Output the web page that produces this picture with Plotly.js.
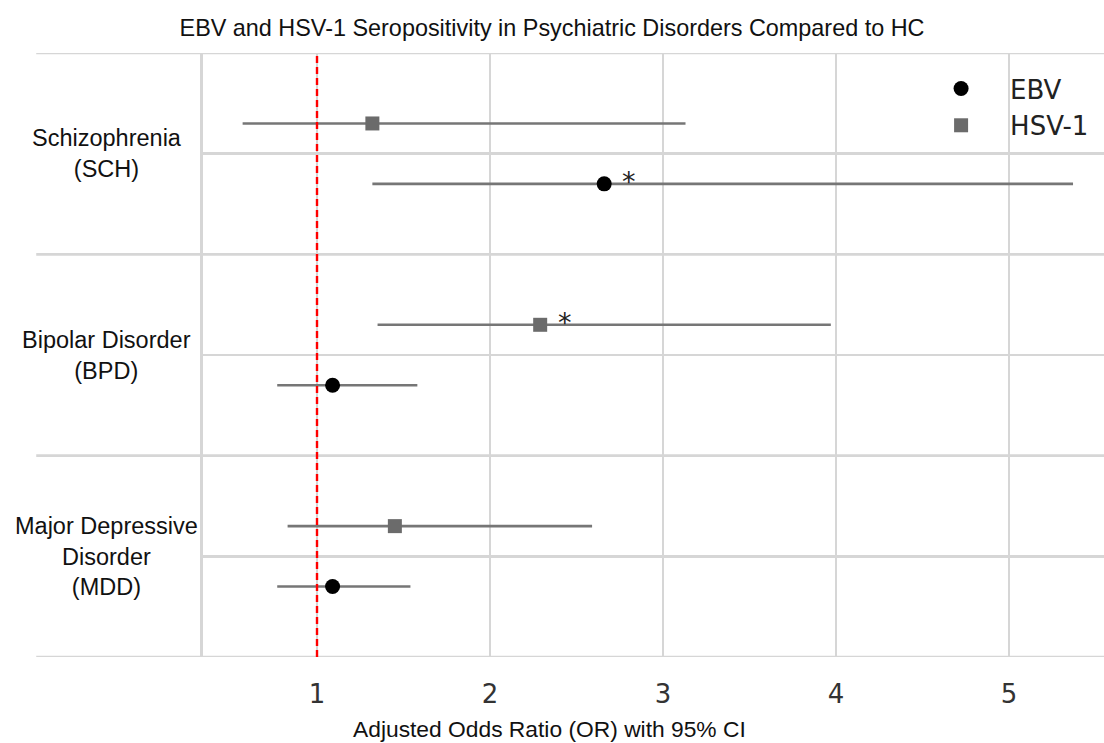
<!DOCTYPE html>
<html>
<head>
<meta charset="utf-8">
<script src="https://cdn.plot.ly/plotly-3.0.1.min.js"></script>
<style>html,body{margin:0;padding:0;background:#fff;}#chart{width:1104px;height:743px;}</style>
</head>
<body>
<div id="chart"></div>
<script>
// Data
var categories = ["Schizophrenia<br>(SCH)", "Bipolar Disorder<br>(BPD)", "Major Depressive<br>Disorder<br>(MDD)"];
var ebvOR  = [2.66, 1.09, 1.09];
var ebvLo  = [1.32, 0.77, 0.77];
var ebvHi  = [5.37, 1.58, 1.54];
var ebvSig = [true, false, false];
var hsvOR  = [1.32, 2.29, 1.45];
var hsvLo  = [0.57, 1.35, 0.83];
var hsvHi  = [3.13, 3.97, 2.59];
var hsvSig = [false, true, false];
var xTicks = [1, 2, 3, 4, 5];

// category centres on the y axis (top to bottom)
var catPos = categories.map(function(c, i){ return 2 * (categories.length - i) - 1; });
var ebvPos = catPos.map(function(p){ return p - 0.3; });
var hsvPos = catPos.map(function(p){ return p + 0.3; });

var errColor = '#767676';
var gridColor = '#d6d6d6';

var traces = [
  {
    type: 'scatter', mode: 'markers', name: 'EBV',
    x: ebvOR, y: ebvPos,
    marker: {symbol: 'circle', size: 15, color: '#000000'},
    error_x: {type: 'data', symmetric: false,
      array: ebvOR.map(function(v,i){ return ebvHi[i] - v; }),
      arrayminus: ebvOR.map(function(v,i){ return v - ebvLo[i]; }),
      color: errColor, thickness: 2.6, width: 0},
    hoverinfo: 'x+name'
  },
  {
    type: 'scatter', mode: 'markers', name: 'HSV-1',
    x: hsvOR, y: hsvPos,
    marker: {symbol: 'square', size: 14, color: '#6b6b6b'},
    error_x: {type: 'data', symmetric: false,
      array: hsvOR.map(function(v,i){ return hsvHi[i] - v; }),
      arrayminus: hsvOR.map(function(v,i){ return v - hsvLo[i]; }),
      color: errColor, thickness: 2.6, width: 0},
    hoverinfo: 'x+name'
  }
];

var annotations = [];
categories.forEach(function(c, i){
  annotations.push({
    text: c, xref: 'paper', yref: 'y', x: -0.107, y: catPos[i],
    xanchor: 'center', yanchor: 'middle', align: 'center', showarrow: false,
    font: {family: 'Liberation Sans, Arial, sans-serif', size: 23.5, color: '#111111'}
  });
});
function addStars(orArr, posArr, sigArr){
  sigArr.forEach(function(s, i){
    if (s) annotations.push({
      text: '*', x: orArr[i], y: posArr[i], xref: 'x', yref: 'y',
      xshift: 25, yshift: 2, showarrow: false, xanchor: 'center', yanchor: 'middle',
      font: {family: 'DejaVu Sans, sans-serif', size: 27, color: '#222222'}
    });
  });
}
addStars(ebvOR, ebvPos, ebvSig);
addStars(hsvOR, hsvPos, hsvSig);
annotations.push({
  text: 'Adjusted Odds Ratio (OR) with 95% CI', xref: 'paper', yref: 'paper',
  x: 0.385, y: 0, yshift: -72, xanchor: 'center', yanchor: 'middle', showarrow: false,
  font: {family: 'Liberation Sans, Arial, sans-serif', size: 22.8, color: '#111111'}
});

var shapes = [];
[0, 2, 4, 6].forEach(function(v){
  shapes.push({type: 'line', xref: 'paper', yref: 'y', x0: -0.1851, x1: 1, y0: v, y1: v,
    line: {color: gridColor, width: 2.6}, layer: 'below'});
});
shapes.push({type: 'line', xref: 'x', yref: 'paper', x0: 1, x1: 1, y0: 0, y1: 1,
  line: {color: '#ff0000', width: 2.4, dash: '7px,4px'}, layer: 'above'});

var layout = {
  width: 1104, height: 743,
  margin: {l: 203, r: 0, t: 53, b: 86},
  paper_bgcolor: '#ffffff', plot_bgcolor: '#ffffff',
  title: {text: 'EBV and HSV-1 Seropositivity in Psychiatric Disorders Compared to HC',
    x: 0.5, xref: 'container', xanchor: 'center', y: 0.963, yanchor: 'middle',
    font: {family: 'Liberation Sans, Arial, sans-serif', size: 23.4, color: '#111111'}},
  xaxis: {range: [0.3410, 5.549], tickvals: xTicks, ticktext: xTicks.map(String),
    showgrid: true, gridcolor: gridColor, gridwidth: 2.6, zeroline: false, showline: false,
    ticks: 'outside', ticklen: 14, tickcolor: 'rgba(0,0,0,0)',
    tickfont: {family: 'DejaVu Sans, sans-serif', size: 26, color: '#333333'}, fixedrange: true},
  yaxis: {range: [0, 6], tickvals: catPos, showticklabels: false,
    showgrid: true, gridcolor: gridColor, gridwidth: 2.6, zeroline: false,
    showline: true, linecolor: gridColor, linewidth: 2.6, ticks: '', fixedrange: true},
  showlegend: true,
  legend: {x: 0.787, xanchor: 'left', y: 0.980, yanchor: 'top', bgcolor: 'rgba(0,0,0,0)',
    itemwidth: 88, font: {family: 'DejaVu Sans, sans-serif', size: 26, color: '#222222'}},
  annotations: annotations,
  shapes: shapes
};

Plotly.newPlot('chart', traces, layout, {displayModeBar: false, staticPlot: true});
</script>
</body>
</html>
